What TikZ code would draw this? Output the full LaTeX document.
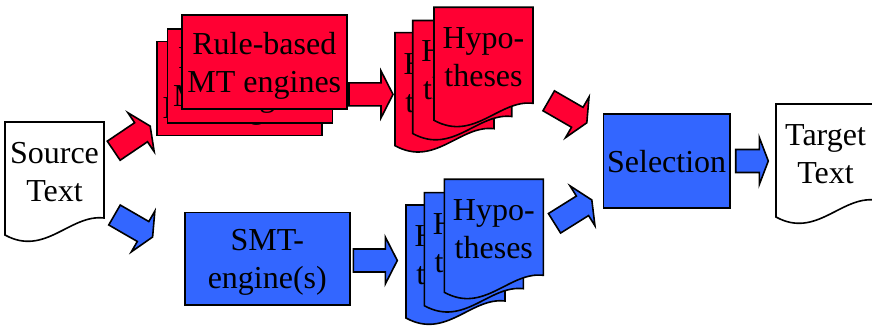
\documentclass[tikz,border=0pt]{standalone}
\usepackage{fontspec}
\setmainfont{Liberation Serif}

\definecolor{mtred}{RGB}{255,0,51}
\definecolor{mtblue}{RGB}{51,102,255}

% last line of a multi-line label without depth, so the text sits optically centred
\newcommand\nodepth[1]{\raisebox{0pt}[\height][0pt]{#1}}

\tikzset{
  outline/.style={draw=black, line width=1.6pt, line join=miter},
  txt/.style={font=\fontsize{32}{38}\selectfont, align=center, inner sep=0pt},
  enginebox/.style={outline, rectangle, txt, minimum width=165, minimum height=94, anchor=north west},
}

% document symbol: top-left corner, fill colour, node name, text
\newcommand\docsym[5]{%
  \begin{scope}[shift={(#1,#2)}]
    \draw[outline, fill=#3] (0,0) -- (99,0) -- (99,96)
      .. controls (65,92) and (40,135) .. (0,113) -- cycle;
    \node[txt] (#4) at (49.5,50) {#5};
  \end{scope}}

% block arrow: fill colour, tail centre, direction, length, head length
\newcommand\blockarrow[5]{%
  \draw[outline, fill=#1, shift={(#2)}, rotate=#3]
    (0,-11.5) -- (#4-#5,-11.5) -- (#4-#5,-23.5) -- (#4,0)
    -- (#4-#5,23.5) -- (#4-#5,11.5) -- (0,11.5) -- cycle;}

\begin{document}
\begin{tikzpicture}[x=1pt, y=-1pt]
  \useasboundingbox (0,0) rectangle (872,328);

  % source and target documents
  \docsym{5}{122}{white}{src}{Source\\\nodepth{Text}}
  \docsym{776}{104}{white}{tgt}{Target\\\nodepth{Text}}

  % rule-based engines (stack)
  \node[enginebox, fill=mtred] (rb3) at (156.3,40.7) {Rule-based\\\nodepth{MT engines}};
  \node[enginebox, fill=mtred] (rb2) at (166.7,28.5) {Rule-based\\\nodepth{MT engines}};
  \node[enginebox, fill=mtred] (rb1) at (181,14.3) {Rule-based\\\nodepth{MT engines}};

  % statistical engine
  \node[enginebox, fill=mtblue, minimum height=92.6] (smt) at (184,211.7) {SMT-\\\nodepth{engine(s)}};

  % selection
  \node[enginebox, fill=mtblue, minimum width=126.3] (sel) at (602.7,113.3) {Selection};

  % hypotheses of the rule-based engines
  \docsym{395}{32.7}{mtred}{rh3}{Hypo-\\\nodepth{theses}}
  \docsym{412.7}{20.5}{mtred}{rh2}{Hypo-\\\nodepth{theses}}
  \docsym{434}{7.3}{mtred}{rh1}{Hypo-\\\nodepth{theses}}

  % hypotheses of the statistical engine
  \docsym{406}{205}{mtblue}{bh3}{Hypo-\\\nodepth{theses}}
  \docsym{424.3}{192.7}{mtblue}{bh2}{Hypo-\\\nodepth{theses}}
  \docsym{444.3}{179.3}{mtblue}{bh1}{Hypo-\\\nodepth{theses}}

  % flow arrows
  \blockarrow{mtred}{113.7,150.7}{34}{44}{11}
  \blockarrow{mtred}{349,94.4}{0}{44}{12}
  \blockarrow{mtred}{548.7,100.8}{-30}{44}{11}
  \blockarrow{mtblue}{114.5,215}{-30}{44}{11}
  \blockarrow{mtblue}{353.3,260.5}{0}{44}{12}
  \blockarrow{mtblue}{554.5,223.3}{32}{44}{11}
  \blockarrow{mtblue}{735.7,161}{0}{32.6}{9}
\end{tikzpicture}
\end{document}
